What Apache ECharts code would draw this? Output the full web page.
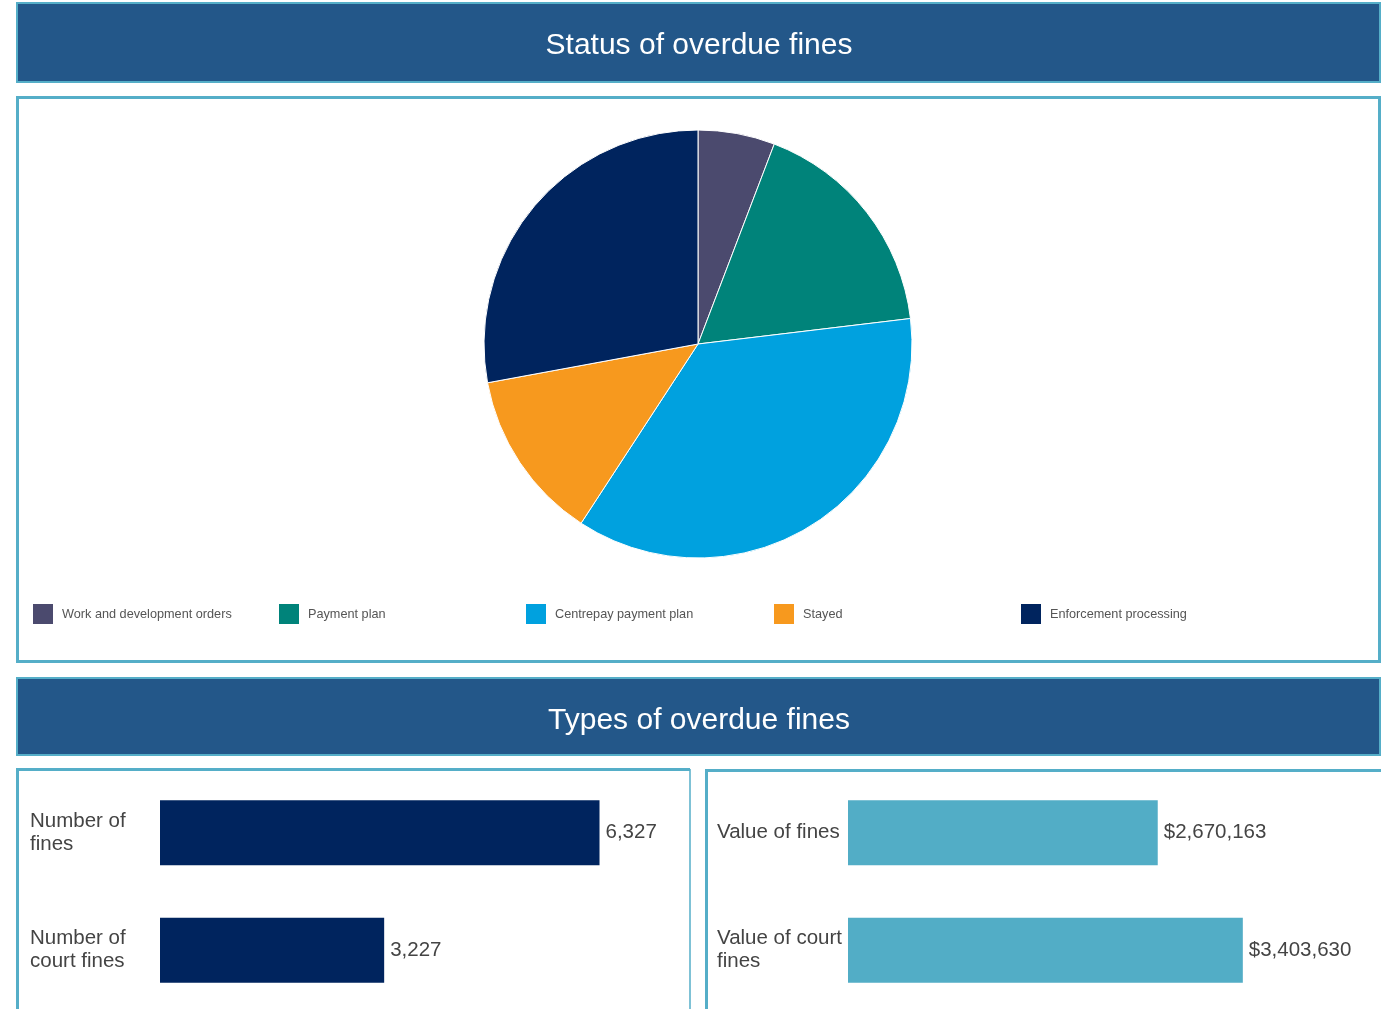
<!DOCTYPE html>
<html>
<head>
<meta charset="utf-8">
<script src="https://cdn.jsdelivr.net/npm/echarts@6/dist/echarts.min.js"></script>
<style>
  html, body { margin: 0; padding: 0; background: #fff; }
  #main { width: 1384px; height: 1009px; }
</style>
</head>
<body>
<div id="main"></div>
<script>
// pie data (share of overdue fines, %)
const statusNames = ['Work and development orders', 'Payment plan', 'Centrepay payment plan', 'Stayed', 'Enforcement processing'];
const statusValues = [5.8, 17.3, 36.1, 12.9, 27.9];
const statusColors = ['#4b4a6e', '#00837a', '#00a1df', '#f7991e', '#00245e'];

// bar data
const countCategories = ['Number of\nfines', 'Number of\ncourt fines'];
const countValues = [6327, 3227];
const valueCategories = ['Value of fines', 'Value of court\nfines'];
const valueValues = [2670163, 3403630];

const font = '"Liberation Sans", Arial, sans-serif';
const frame = '#55aec8';
const banner = '#235789';

const chart = echarts.init(document.getElementById('main'));

const legendLeft = [31, 277, 524, 772, 1019];
const legends = statusNames.map((name, i) => ({
  data: [name],
  left: legendLeft[i],
  top: 602,
  itemWidth: 22,
  itemHeight: 22,
  icon: 'rect',
  padding: 0,
  textStyle: { fontFamily: font, fontSize: 12.7, color: '#555', padding: [0, 0, 0, 3] }
}));

const titleStyle = { color: '#fff', fontSize: 30, fontWeight: 'normal', fontFamily: font, lineHeight: 30 };

const option = {
  animation: false,
  textStyle: { fontFamily: font },
  graphic: [
    { type: 'rect', z: 0, shape: { x: 17, y: 3, width: 1363, height: 79 }, style: { fill: banner, stroke: frame, lineWidth: 2 } },
    { type: 'rect', z: 0, shape: { x: 17.5, y: 97.5, width: 1362, height: 564 }, style: { fill: '#fff', stroke: frame, lineWidth: 3 } },
    { type: 'rect', z: 0, shape: { x: 17, y: 678, width: 1363, height: 77 }, style: { fill: banner, stroke: frame, lineWidth: 2 } },
    { type: 'polyline', z: 0, shape: { points: [[17.5, 1015], [17.5, 769.5], [690, 769.5]] }, style: { fill: null, stroke: frame, lineWidth: 3 } },
    { type: 'line', z: 0, shape: { x1: 690, y1: 769, x2: 690, y2: 1015 }, style: { stroke: frame, lineWidth: 1.5 } },
    { type: 'polyline', z: 0, shape: { points: [[706.5, 1015], [706.5, 770.5], [1381, 770.5]] }, style: { fill: null, stroke: frame, lineWidth: 3 } }
  ],
  title: [
    { text: 'Status of overdue fines', left: 699, textAlign: 'center', top: 31, padding: 0, textStyle: titleStyle },
    { text: 'Types of overdue fines', left: 699, textAlign: 'center', top: 706, padding: 0, textStyle: titleStyle }
  ],
  legend: legends,
  grid: [
    { left: 160, top: 774, width: 521, height: 238 },
    { left: 848, top: 774, width: 522, height: 238 }
  ],
  xAxis: [
    { gridIndex: 0, type: 'value', min: 0, max: 7500, show: false },
    { gridIndex: 1, type: 'value', min: 0, max: 4500000, show: false }
  ],
  yAxis: [
    { gridIndex: 0, type: 'category', data: countCategories, inverse: true,
      axisLine: { show: false }, axisTick: { show: false },
      axisLabel: { align: 'left', margin: 130, fontSize: 20.5, lineHeight: 23, color: '#444', fontFamily: font } },
    { gridIndex: 1, type: 'category', data: valueCategories, inverse: true,
      axisLine: { show: false }, axisTick: { show: false },
      axisLabel: { align: 'left', margin: 131, fontSize: 20.5, lineHeight: 23, color: '#444', fontFamily: font } }
  ],
  series: [
    {
      type: 'pie',
      center: [698, 344],
      radius: 214,
      startAngle: 90,
      clockwise: true,
      label: { show: false },
      labelLine: { show: false },
      itemStyle: { borderColor: '#fff', borderWidth: 1 },
      emphasis: { disabled: true },
      data: statusNames.map((name, i) => ({ name, value: statusValues[i], itemStyle: { color: statusColors[i] } }))
    },
    {
      type: 'bar',
      xAxisIndex: 0, yAxisIndex: 0,
      data: countValues,
      barWidth: 65,
      itemStyle: { color: '#00245e' },
      label: { show: true, position: 'right', distance: 6, fontSize: 20.5, color: '#444', fontFamily: font,
        formatter: p => p.value.toLocaleString('en-US') }
    },
    {
      type: 'bar',
      xAxisIndex: 1, yAxisIndex: 1,
      data: valueValues,
      barWidth: 65,
      itemStyle: { color: '#52adc6' },
      label: { show: true, position: 'right', distance: 6, fontSize: 20.5, color: '#444', fontFamily: font,
        formatter: p => '$' + p.value.toLocaleString('en-US') }
    }
  ]
};

chart.setOption(option);
</script>
</body>
</html>
